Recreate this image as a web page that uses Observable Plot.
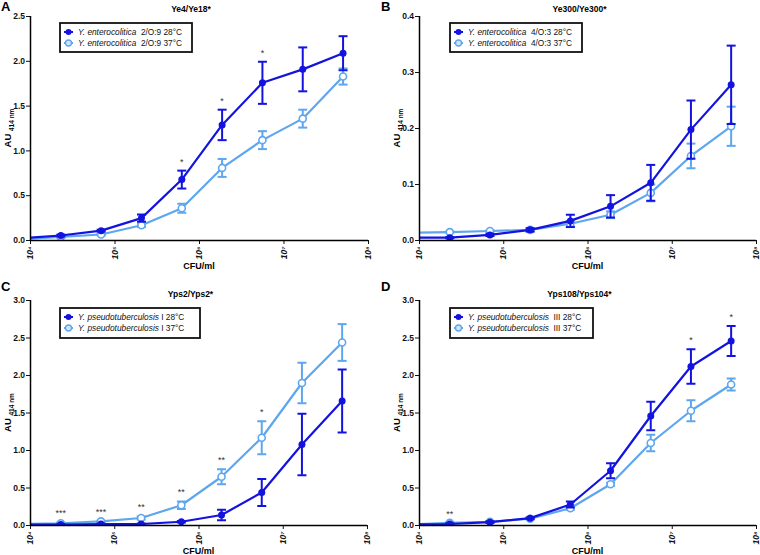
<!DOCTYPE html>
<html><head><meta charset="utf-8">
<script src="https://cdn.jsdelivr.net/npm/d3@7"></script>
<script src="https://cdn.jsdelivr.net/npm/@observablehq/plot@0.6"></script>
<style>
body{margin:0;background:#fff;font-family:"Liberation Sans",Arial,sans-serif;}
#wrap{position:relative;width:760px;height:555px;}
#wrap svg{position:absolute;overflow:visible;}
</style></head><body><div id="wrap"></div>
<script>
// CFU/ml dilution series (3-fold)
const cfu = [7621, 22862, 68587, 205761, 617284, 1851852, 5555556, 16666667, 50000000];

// Panel A  Ye4/Ye18*
const a28 = [0.026, 0.056, 0.11, 0.25, 0.68, 1.29, 1.76, 1.91, 2.09];
const a28e = [0, 0.01, 0.01, 0.04, 0.10, 0.17, 0.235, 0.245, 0.19];
const a37 = [0.015, 0.04, 0.067, 0.17, 0.36, 0.81, 1.12, 1.36, 1.83];
const a37e = [0, 0.01, 0.01, 0.02, 0.05, 0.10, 0.10, 0.10, 0.09];
const aStars = [[4, "*"], [5, "*"], [6, "*"]];

// Panel B  Ye300/Ye300*
const b28 = [0.005, 0.005, 0.010, 0.019, 0.035, 0.061, 0.103, 0.198, 0.278];
const b28e = [0, 0.001, 0.002, 0.003, 0.011, 0.020, 0.032, 0.052, 0.070];
const b37 = [0.014, 0.015, 0.017, 0.019, 0.030, 0.046, 0.085, 0.151, 0.204];
const b37e = [0, 0.001, 0.001, 0.003, 0.005, 0.006, 0.015, 0.022, 0.035];
const bStars = [];

// Panel C  Yps2/Yps2*
const c28 = [0.013, 0.013, 0.02, 0.02, 0.05, 0.14, 0.44, 1.08, 1.66];
const c28e = [0, 0.005, 0.005, 0.005, 0.01, 0.07, 0.18, 0.41, 0.42];
const c37 = [0.02, 0.03, 0.055, 0.10, 0.27, 0.65, 1.17, 1.90, 2.44];
const c37e = [0, 0.01, 0.01, 0.02, 0.05, 0.10, 0.22, 0.27, 0.245];
const cStars = [[1, "***"], [2, "***"], [3, "**"], [4, "**"], [5, "**"], [6, "*"]];

// Panel D  Yps108/Yps104*
const d28 = [0.013, 0.02, 0.045, 0.098, 0.28, 0.73, 1.46, 2.12, 2.46];
const d28e = [0, 0.01, 0.01, 0.01, 0.04, 0.10, 0.19, 0.23, 0.20];
const d37 = [0.015, 0.035, 0.05, 0.09, 0.23, 0.55, 1.10, 1.53, 1.88];
const d37e = [0, 0.01, 0.01, 0.01, 0.02, 0.02, 0.11, 0.14, 0.08];
const dStars = [[1, "**"], [7, "*"], [8, "*"]];

const xTicks = [1e4, 1e5, 1e6, 1e7, 1e8];
const sup = {"4": "\u2074", "5": "\u2075", "6": "\u2076", "7": "\u2077", "8": "\u2078"};

const DARK = "#1313e0";
const LIGHT = "#5ea6ee";
const FONT = "'Liberation Sans', Arial, sans-serif";

const cap = {draw(ctx) { ctx.moveTo(-4.5, 0); ctx.lineTo(4.5, 0); }};

function rows(v, e) {
  return cfu.map((x, i) => ({x, y: v[i], lo: v[i] - e[i], hi: v[i] + e[i], e: e[i]}));
}

const panels = [
  {letter: "A", title: "Ye4/Ye18*", left: 0, top: 0, h: 270, ml: 30, mr: 12, mt: 16, ymax: 2.5, step: 0.5,
   s28: a28, e28: a28e, s37: a37, e37: a37e, stars: aStars, starOn: "28",
   species: "Y. enterocolitica", l28: "  2/O:9 28°C", l37: "  2/O:9 37°C", lg: [60, 23, 132, 29]},
  {letter: "B", title: "Ye300/Ye300*", left: 380, top: 0, h: 270, ml: 39, mr: 4, mt: 16, ymax: 0.4, step: 0.1,
   s28: b28, e28: b28e, s37: b37, e37: b37e, stars: bStars, starOn: "28",
   species: "Y. enterocolitica", l28: "  4/O:3 28°C", l37: "  4/O:3 37°C", lg: [70, 23, 132, 29]},
  {letter: "C", title: "Yps2/Yps2*", left: 0, top: 270, h: 285, ml: 30, mr: 13, mt: 30, ymax: 3.0, step: 0.5,
   s28: c28, e28: c28e, s37: c37, e37: c37e, stars: cStars, starOn: "37",
   species: "Y. pseudotuberculosis", l28: " I 28°C", l37: " I 37°C", lg: [60, 38, 140, 30]},
  {letter: "D", title: "Yps108/Yps104*", left: 380, top: 270, h: 285, ml: 39, mr: 4, mt: 30, ymax: 3.0, step: 0.5,
   s28: d28, e28: d28e, s37: d37, e37: d37e, stars: dStars, starOn: "28",
   species: "Y. pseudotuberculosis", l28: "  III 28°C", l37: "  III 37°C", lg: [70, 38, 143, 30]}
];

const wrap = document.getElementById("wrap");

for (const p of panels) {
  const r28 = rows(p.s28, p.e28);
  const r37 = rows(p.s37, p.e37);
  const starRows = p.stars.map(([i, t]) => {
    const r = p.starOn === "28" ? r28[i] : r37[i];
    return {x: r.x, y: r.hi, t};
  });
  const yTicks = d3.range(0, p.ymax + 1e-9, p.step);
  const mb = 30;
  function series(r, color, open) {
    const eb = r.filter(d => d.e > 0);
    return [
      Plot.ruleX(eb, {x: "x", y1: "lo", y2: "hi", stroke: color, strokeWidth: 2, clip: true}),
      Plot.dot(eb, {x: "x", y: "hi", symbol: cap, stroke: color, strokeWidth: 2, fill: "none", clip: true}),
      Plot.dot(eb, {x: "x", y: "lo", symbol: cap, stroke: color, strokeWidth: 2, fill: "none", clip: true}),
      Plot.line(r, {x: "x", y: "y", stroke: color, strokeWidth: 2.2, clip: true}),
      Plot.dot(r, {x: "x", y: "y", r: 3.5, stroke: color, strokeWidth: open ? 1.6 : 0, fill: open ? "#ffffff" : color, clip: true})
    ];
  }
  const chart = Plot.plot({
    width: 380, height: p.h,
    marginLeft: p.ml, marginRight: p.mr, marginTop: p.mt, marginBottom: mb,
    style: {fontFamily: FONT, fontSize: "8px", fontWeight: "bold", color: "#111", background: "transparent"},
    x: {type: "log", domain: [1e4, 1e8]},
    y: {domain: [0, p.ymax]},
    marks: [
      Plot.axisX({ticks: xTicks, tickSize: 4, text: null, label: null}),
      Plot.text(xTicks, {x: d => d, frameAnchor: "bottom", dy: 6, rotate: -90, textAnchor: "end", lineAnchor: "middle",
        text: d => "10" + sup[String(Math.round(Math.log10(d)))], fontSize: 8.5, fontWeight: "bold", fontStyle: "italic", fill: "#111"}),
      Plot.axisY({ticks: yTicks, tickFormat: d3.format(".1f"), tickSize: 4, tickPadding: 1.5, label: null, fontSize: 8.5}),
      ...series(r37, LIGHT, true),
      ...series(r28, DARK, false),
      Plot.text(starRows, {x: "x", y: "y", text: "t", dy: -9, fontSize: 9, fill: "#333", fontWeight: "normal"}),
      Plot.ruleY([0], {stroke: "#000", strokeWidth: 1.5}),
      Plot.ruleX([1e4], {stroke: "#000", strokeWidth: 1.5})
    ]
  });
  chart.style.left = p.left + "px";
  chart.style.top = p.top + "px";
  wrap.appendChild(chart);

  const svg = d3.select(chart);
  const fw = 380 - p.ml - p.mr;
  const cx = p.ml + fw / 2;
  const plotH = p.h - p.mt - mb;
  // panel letter
  svg.append("text").attr("x", 1).attr("y", p.top ? 21 : 11).attr("text-anchor", "start")
    .attr("font-family", FONT).attr("font-weight", "bold").attr("font-size", 13).attr("fill", "#000").text(p.letter);
  // title
  svg.append("text").attr("x", cx - 8).attr("y", p.top ? 27 : 12).attr("text-anchor", "middle")
    .attr("font-family", FONT).attr("font-weight", "bold").attr("font-size", 8.5).attr("fill", "#000").text(p.title);
  // y label
  const yl = svg.append("text").attr("transform", `translate(${p.ml - 19},${p.mt + plotH / 2}) rotate(-90)`)
    .attr("text-anchor", "middle").attr("font-family", FONT).attr("font-weight", "bold").attr("font-size", 9.5).attr("fill", "#000");
  yl.append("tspan").text("AU ");
  yl.append("tspan").attr("font-size", 6.5).attr("dy", 3).text("414 nm");
  // x label
  svg.append("text").attr("x", cx).attr("y", p.h - 1).attr("text-anchor", "middle")
    .attr("font-family", FONT).attr("font-weight", "bold").attr("font-size", 9).attr("fill", "#000").text("CFU/ml");
  // legend
  const [lx, ly, lw, lh] = p.lg;
  const g = svg.append("g");
  g.append("rect").attr("x", lx).attr("y", ly).attr("width", lw).attr("height", lh)
    .attr("fill", "#fff").attr("stroke", "#111").attr("stroke-width", 1.8);
  [[DARK, false, p.l28], [LIGHT, true, p.l37]].forEach(([col, open, lab], k) => {
    const yy = ly + 9 + k * 11;
    g.append("line").attr("x1", lx + 4).attr("x2", lx + 13).attr("y1", yy).attr("y2", yy)
      .attr("stroke", col).attr("stroke-width", 2);
    g.append("circle").attr("cx", lx + 8.5).attr("cy", yy).attr("r", 3)
      .attr("fill", open ? "#cfe4fa" : col).attr("stroke", col).attr("stroke-width", open ? 1.3 : 0);
    const t = g.append("text").attr("x", lx + 18).attr("y", yy + 3).attr("text-anchor", "start")
      .attr("font-family", FONT).attr("font-weight", "normal").attr("font-size", 8.3).attr("fill", "#111")
      .attr("xml:space", "preserve").style("white-space", "pre");
    t.append("tspan").attr("font-style", "italic").text(p.species);
    t.append("tspan").text(lab);
  });
}
</script></body></html>
